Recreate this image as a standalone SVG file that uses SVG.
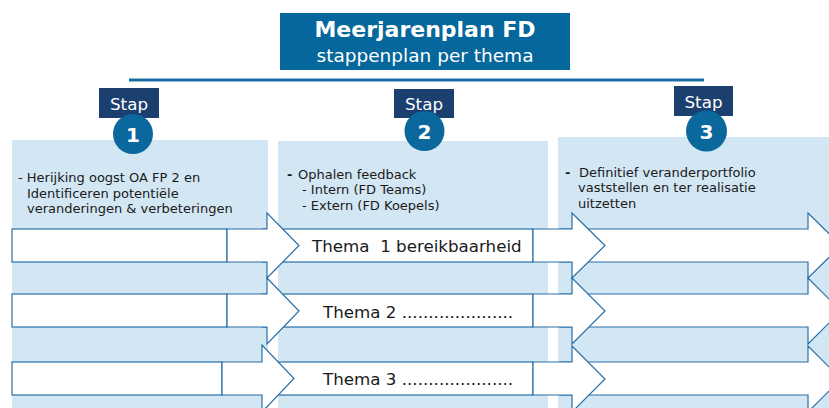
<svg xmlns="http://www.w3.org/2000/svg" width="829" height="408" viewBox="0 0 829 408">
  <defs>
    <style>
      .panel { fill: #d3e6f4; }
      .bar { fill: #ffffff; stroke: #2a6fa6; stroke-width: 1.2; }
      .stap { fill: #1b3f6e; }
      .num { fill: #0b689d; }
      .t { font-family: "DejaVu Sans", Verdana, sans-serif; fill: #1a1a1a; }
      .body { font-size: 13px; }
      .thema { font-size: 16.7px; white-space: pre; }
      .white { fill: #ffffff; }
    </style>
  </defs>
  <rect width="829" height="408" fill="#ffffff"/>

  <!-- header -->
  <g id="title">
    <rect x="280" y="13" width="290" height="57" fill="#05679b"/>
    <text x="425" y="37" text-anchor="middle" class="t white" font-size="22" font-weight="bold">Meerjarenplan FD</text>
    <text x="425" y="62" text-anchor="middle" class="t white" font-size="18.5">stappenplan per thema</text>
  </g>
  <line x1="129" y1="80" x2="704" y2="80" stroke="#1a6ea3" stroke-width="3"/>

  <!-- step columns -->
  <g id="panel1"><rect class="panel" x="12" y="140" width="256" height="268"/></g>
  <g id="panel2"><rect class="panel" x="278" y="141" width="270" height="267"/></g>
  <g id="panel3"><rect class="panel" x="558" y="137" width="271" height="271"/></g>

  <g id="step1">
    <rect class="stap" x="99" y="88" width="60" height="30"/>
    <text x="129" y="110" text-anchor="middle" class="t white" font-size="16.7">Stap</text>
    <circle class="num" cx="133" cy="134" r="20"/>
    <text x="133" y="141.5" text-anchor="middle" class="t white" font-size="20" font-weight="bold">1</text>
    <text class="t body" y="182"><tspan x="18">- Herijking oogst OA FP 2 en</tspan><tspan x="27" y="198">Identificeren potentiële</tspan><tspan x="27" y="213">veranderingen &amp; verbeteringen</tspan></text>
  </g>

  <g id="step2">
    <rect class="stap" x="394" y="89" width="60" height="29"/>
    <text x="424" y="110" text-anchor="middle" class="t white" font-size="16.7">Stap</text>
    <circle class="num" cx="424.5" cy="131" r="20"/>
    <text x="424.5" y="138.5" text-anchor="middle" class="t white" font-size="20" font-weight="bold">2</text>
    <text class="t body" x="287" y="179" font-weight="bold">-</text>
    <text class="t body" x="298" y="179">Ophalen feedback</text>
    <text class="t body" x="302" y="194">- Intern (FD Teams)</text>
    <text class="t body" x="302" y="210">- Extern (FD Koepels)</text>
  </g>

  <g id="step3">
    <rect class="stap" x="674" y="86" width="59" height="30"/>
    <text x="703.5" y="108" text-anchor="middle" class="t white" font-size="16.7">Stap</text>
    <circle class="num" cx="706.5" cy="131" r="20.5"/>
    <text x="706.5" y="138.5" text-anchor="middle" class="t white" font-size="20" font-weight="bold">3</text>
    <text class="t body" x="565" y="177" font-weight="bold">-</text>
    <text class="t body" y="177"><tspan x="579">Definitief veranderportfolio</tspan><tspan x="578" y="192">vaststellen en ter realisatie</tspan><tspan x="578" y="208">uitzetten</tspan></text>
  </g>

  <!-- theme rows: bars and arrows -->
  <g id="connectors">
    <!-- row 1 -->
    <path class="bar" d="M560 229 H808 V213 L841 245.5 L808 278 V262 H560 Z"/>
    <rect class="bar" x="262" y="229" width="271" height="33"/>
    <path class="bar" d="M533 229 H572 V213 L605 245.5 L572 278 V262 H533 Z"/>
    <rect class="bar" x="12" y="229" width="215" height="33"/>
    <path class="bar" d="M227 229 H267 V213 L299 245.5 L267 278 V262 H227 Z"/>
    <!-- row 2 -->
    <path class="bar" d="M560 294 H808 V278 L841 311 L808 344 V327 H560 Z"/>
    <rect class="bar" x="262" y="294" width="271" height="33"/>
    <path class="bar" d="M533 294 H572 V278 L605 311 L572 344 V327 H533 Z"/>
    <rect class="bar" x="12" y="294" width="215" height="33"/>
    <path class="bar" d="M227 294 H267 V278 L299 311 L267 344 V327 H227 Z"/>
    <!-- row 3 -->
    <path class="bar" d="M560 362 H808 V346 L841 379 L808 412 V395 H560 Z"/>
    <rect class="bar" x="262" y="362" width="271" height="33"/>
    <path class="bar" d="M533 362 H572 V346 L605 379 L572 412 V395 H533 Z"/>
    <rect class="bar" x="12" y="362" width="210" height="33"/>
    <path class="bar" d="M222 362 H262 V345 L294 378.5 L262 412 V395 H222 Z"/>
  </g>

  <g id="themes">
    <text class="t thema" x="312" y="252">Thema  1 bereikbaarheid</text>
    <text class="t thema" x="323" y="318">Thema 2 .....................</text>
    <text class="t thema" x="323" y="385">Thema 3 .....................</text>
  </g>
</svg>
